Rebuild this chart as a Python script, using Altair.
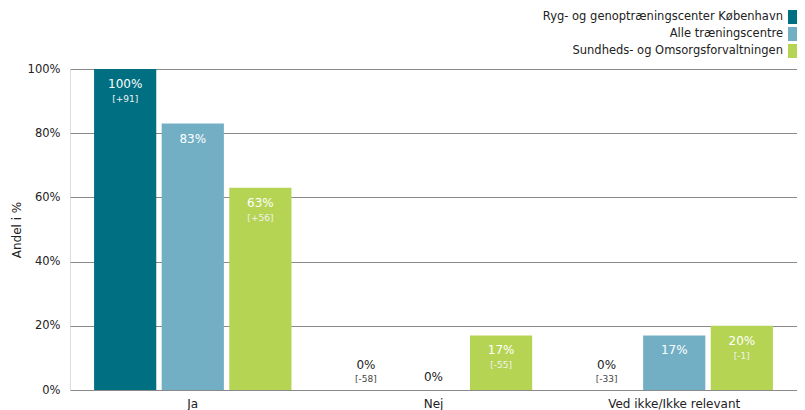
import altair as alt
import pandas as pd

categories = ["Ja", "Nej", "Ved ikke/Ikke relevant"]
series = ["Ryg- og genoptræningscenter København", "Alle træningscentre",
          "Sundheds- og Omsorgsforvaltningen"]
colors = ["#006F81", "#72AFC5", "#B6D453"]
values = {
    series[0]: [100, 0, 0],
    series[1]: [83, 0, 17],
    series[2]: [63, 17, 20],
}
diffs = {
    series[0]: ["+91", "-58", "-33"],
    series[1]: ["", "", ""],
    series[2]: ["+56", "-55", "-1"],
}

rows = []
for s in series:
    for c, v, d in zip(categories, values[s], diffs[s]):
        rows.append({"cat": c, "series": s, "value": v,
                     "label": f"{v}%", "diff": f"[{d}]" if d else ""})
df = pd.DataFrame(rows)

FONT = "DejaVu Sans"
W, H = 727, 321

x = alt.X("cat:N", sort=categories, title=None,
          scale=alt.Scale(paddingInner=0.18, paddingOuter=0.1),
          axis=alt.Axis(labelAngle=0, ticks=False, domain=False, labelPadding=8,
                        labelFontSize=12, labelColor="#222", labelFont=FONT))
xo = alt.XOffset("series:N", sort=series, scale=alt.Scale(paddingInner=0.08))
y = alt.Y("value:Q", scale=alt.Scale(domain=[0, 100]), title="Andel i %",
          axis=alt.Axis(values=[0, 20, 40, 60, 80, 100], labelExpr="datum.value + '%'",
                        ticks=False, domain=False, labelPadding=10, gridColor="#8a8a8a",
                        gridWidth=1, labelFontSize=11.5, labelColor="#222", labelFont=FONT,
                        titleFont=FONT, titleFontSize=12, titleFontWeight="normal",
                        titleColor="#222", titlePadding=4))

base = alt.Chart(df).encode(x=x, xOffset=xo)

bars = base.mark_bar().encode(
    y=y,
    color=alt.Color("series:N", sort=series, scale=alt.Scale(domain=series, range=colors),
                    legend=None),
)

def txt(filt, field, dy, size, color):
    return base.transform_filter(filt).mark_text(
        dy=dy, fontSize=size, color=color, font=FONT, baseline="middle"
    ).encode(y=alt.Y("value:Q"), text=f"{field}:N")

t1 = txt("datum.value > 0", "label", 15, 12, "white")
t2 = txt("datum.value > 0 && datum.diff != ''", "diff", 30, 9, "#f2f2f2")
t3 = txt("datum.value == 0 && datum.diff != ''", "label", -25, 12, "#222")
t4 = txt("datum.value == 0 && datum.diff != ''", "diff", -11, 9, "#444")
t5 = txt("datum.value == 0 && datum.diff == ''", "label", -13, 12, "#222")

leg_layers = []
for i, (s, c) in enumerate(zip(series, colors)):
    ld = pd.DataFrame({"series": [s]})
    yc = -52 + 17 * i
    leg_layers.append(alt.Chart(ld).mark_text(
        align="right", baseline="middle", fontSize=11.5, font=FONT, color="#222"
    ).encode(x=alt.value(W - 14), y=alt.value(yc), text="series:N"))
    leg_layers.append(alt.Chart(ld).mark_rect(color=c).encode(
        x=alt.value(W - 9), x2=alt.value(W), y=alt.value(yc - 7), y2=alt.value(yc + 7)))

chart = alt.layer(bars, t1, t2, t3, t4, t5, *leg_layers).properties(
    width=W, height=H,
    autosize=alt.AutoSizeParams(type="none"),
    padding={"left": 62, "top": 61, "right": 0, "bottom": 22},
).configure_view(stroke=None).configure(background="white")

chart.save("out.html", embed_options={"renderer": "svg", "actions": False})
